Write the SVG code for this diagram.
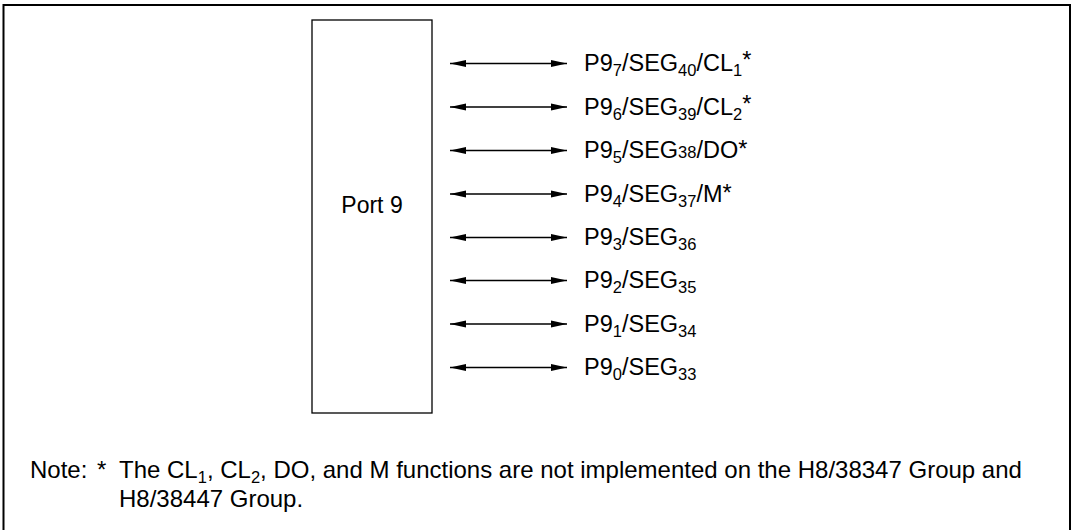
<svg xmlns="http://www.w3.org/2000/svg" width="1074" height="530" viewBox="0 0 1074 530">
<defs>
<style>
text{font-family:"Liberation Sans",Arial,sans-serif;font-size:23px;fill:#000}
.lbl{font-size:23.5px}
.sub{font-size:16.5px}
.note{font-size:24px}
.c{stroke:#000;stroke-width:1.3;fill:none;marker-start:url(#ah);marker-end:url(#ah)}
</style>
<marker id="ah" viewBox="0 0 16 8" refX="16" refY="4" markerWidth="16" markerHeight="8" markerUnits="userSpaceOnUse" orient="auto-start-reverse">
<path d="M0,0.5 L16,4 L0,7.5 Z" fill="#000"/>
</marker>
</defs>
<rect x="3.5" y="5" width="1066.5" height="600" fill="#fff" stroke="#000" stroke-width="2"/>
<g id="port9">
<rect x="312" y="20" width="120" height="393" fill="#fff" stroke="#000" stroke-width="1.3"/>
<text x="372" y="213" text-anchor="middle">Port 9</text>
</g>
<g id="connectors">
<line class="c" x1="450" y1="63.5" x2="567" y2="63.5"/>
<line class="c" x1="450" y1="107" x2="567" y2="107"/>
<line class="c" x1="450" y1="150.5" x2="567" y2="150.5"/>
<line class="c" x1="450" y1="194" x2="567" y2="194"/>
<line class="c" x1="450" y1="237.5" x2="567" y2="237.5"/>
<line class="c" x1="450" y1="280.5" x2="567" y2="280.5"/>
<line class="c" x1="450" y1="324" x2="567" y2="324"/>
<line class="c" x1="450" y1="367.5" x2="567" y2="367.5"/>
</g>
<g id="p97"><text class="lbl" x="584" y="71">P9<tspan class="sub" dy="5">7</tspan><tspan dy="-5">/SEG</tspan><tspan class="sub" dy="5">40</tspan><tspan dy="-5">/CL</tspan><tspan class="sub" dy="5">1</tspan><tspan dy="-8">*</tspan></text></g>
<g id="p96"><text class="lbl" x="584" y="114.5">P9<tspan class="sub" dy="5">6</tspan><tspan dy="-5">/SEG</tspan><tspan class="sub" dy="5">39</tspan><tspan dy="-5">/CL</tspan><tspan class="sub" dy="5">2</tspan><tspan dy="-8">*</tspan></text></g>
<g id="p95"><text class="lbl" x="584" y="158">P9<tspan class="sub" dy="5">5</tspan><tspan dy="-5">/SEG</tspan><tspan class="sub">38</tspan><tspan>/DO</tspan><tspan dy="-1">*</tspan></text></g>
<g id="p94"><text class="lbl" x="584" y="201.5">P9<tspan class="sub" dy="5">4</tspan><tspan dy="-5">/SEG</tspan><tspan class="sub" dy="5">37</tspan><tspan dy="-5">/M</tspan><tspan dy="-1">*</tspan></text></g>
<g id="p93"><text class="lbl" x="584" y="245">P9<tspan class="sub" dy="5">3</tspan><tspan dy="-5">/SEG</tspan><tspan class="sub" dy="5">36</tspan></text></g>
<g id="p92"><text class="lbl" x="584" y="288">P9<tspan class="sub" dy="5">2</tspan><tspan dy="-5">/SEG</tspan><tspan class="sub" dy="5">35</tspan></text></g>
<g id="p91"><text class="lbl" x="584" y="331.5">P9<tspan class="sub" dy="5">1</tspan><tspan dy="-5">/SEG</tspan><tspan class="sub" dy="5">34</tspan></text></g>
<g id="p90"><text class="lbl" x="584" y="375">P9<tspan class="sub" dy="5">0</tspan><tspan dy="-5">/SEG</tspan><tspan class="sub" dy="5">33</tspan></text></g>
<g id="note">
<text class="note" x="30" y="478">Note:</text>
<text class="note" x="97" y="478">*</text>
<text class="note" x="119" y="478">The CL<tspan class="sub" dy="5">1</tspan><tspan dy="-5">, CL</tspan><tspan class="sub" dy="5">2</tspan><tspan dy="-5">, DO, and M functions are not implemented on the H8/38347 Group and</tspan></text>
<text class="note" x="119" y="507">H8/38447 Group.</text>
</g>
</svg>
